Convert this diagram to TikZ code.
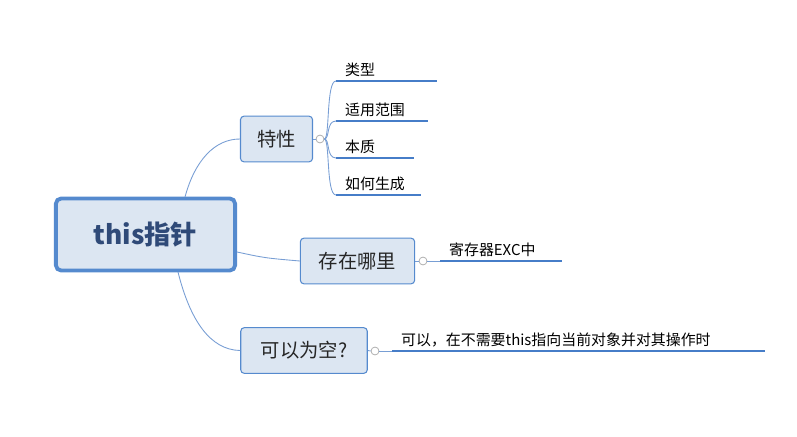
\documentclass[tikz,border=0pt]{standalone}
\usepackage{fontspec}
\setmainfont{Noto Sans CJK SC}
\usetikzlibrary{positioning}
\definecolor{mapfill}{RGB}{220,230,242}
\definecolor{mapedge}{RGB}{85,138,206}
\definecolor{maptext}{RGB}{47,74,120}
\definecolor{mapline}{RGB}{120,158,212}
\definecolor{leafline}{RGB}{70,125,200}
\tikzset{
  rootbox/.style={draw=mapedge, line width=2.2pt, fill=mapfill, rounded corners=3pt,
    minimum width=102pt, minimum height=41pt, font=\fontsize{15}{18}\selectfont\bfseries, text=maptext},
  subbox/.style={draw=mapedge, line width=0.6pt, fill=mapfill, rounded corners=2pt,
    minimum height=26pt, font=\fontsize{11}{13}\selectfont, text=black!85},
  leaf/.style={anchor=south west, inner xsep=5pt, inner ysep=2pt, align=left,
    font=\fontsize{8.5}{10}\selectfont},
  fold/.style={draw=gray!70, circle, inner sep=0pt, minimum size=4.5pt, line width=0.4pt},
  link/.style={draw=mapline, line width=0.5pt},
  under/.style={draw=leafline, line width=1.2pt}
}
\begin{document}
\begin{tikzpicture}[x=0.02cm, y=-0.02cm]
\useasboundingbox (0,0) rectangle (797,436);

\node[rootbox] (root) at (145.5,234.5) {this指针};
\node[subbox, minimum width=41pt] (trait) at (276.5,139) {特性};
\node[subbox, minimum width=65pt] (where) at (357.5,261) {存在哪里};
\node[subbox, minimum width=72pt] (null) at (304,350.5) {可以为空?};

\node[fold] (ftrait) at (320,139) {};
\node[fold] (fwhere) at (423,261) {};
\node[fold] (fnull) at (375,351) {};

% leaves
\node[leaf, text width=47pt] (type) at (336,81) {类型};
\node[leaf, text width=42pt] (range) at (336,121) {适用范围};
\node[leaf, text width=34pt] (nature) at (336,158) {本质};
\node[leaf, text width=38pt] (make) at (336,195) {如何生成};
\node[leaf, text width=59pt] (reg) at (440,261) {寄存器EXC中};
\node[leaf, text width=202pt] (when) at (392,351) {可以，在不需要this指向当前对象并对其操作时};

\draw[under] (type.south west) -- (type.south east);
\draw[under] (range.south west) -- (range.south east);
\draw[under] (nature.south west) -- (nature.south east);
\draw[under] (make.south west) -- (make.south east);
\draw[under] (reg.south west) -- (reg.south east);
\draw[under] (when.south west) -- (when.south east);

% connectors
\draw[link] (185,197) .. controls (195,160) and (215,139) .. (trait.west);
\draw[link] (root.east |- 0,252) .. controls (265,258) .. (where.west);
\draw[link] (178,272) .. controls (190,320) and (210,350) .. (null.west);
\draw[link] (trait.east) -- (ftrait.west);
\draw[link] (where.east) -- (fwhere.west);
\draw[link] (null.east) -- (fnull.west);
\draw[link] (fwhere.east) -- (reg.south west);
\draw[link] (fnull.east) -- (when.south west);
\draw[link] (ftrait.east) .. controls (330,139) and (326,81) .. (type.south west);
\draw[link] (ftrait.east) .. controls (330,139) and (326,121) .. (range.south west);
\draw[link] (ftrait.east) .. controls (330,139) and (326,158) .. (nature.south west);
\draw[link] (ftrait.east) .. controls (330,139) and (326,195) .. (make.south west);
\end{tikzpicture}
\end{document}
